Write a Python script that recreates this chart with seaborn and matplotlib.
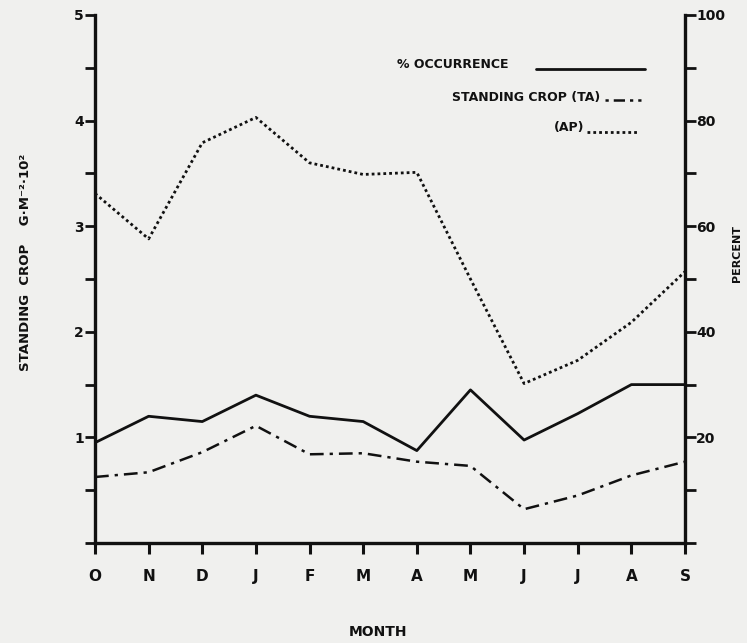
import numpy as np
import pandas as pd
import matplotlib
matplotlib.use("Agg")
import matplotlib.pyplot as plt
from matplotlib.lines import Line2D
import seaborn as sns

# Monthly values, October through September
months = ["O", "N", "D", "J", "F", "M", "A", "M", "J", "J", "A", "S"]
occurrence_pct = [19.0, 24.0, 23.0, 28.0, 24.0, 23.0, 17.5, 29.0, 19.5, 24.5, 30.0, 30.0]
standing_crop_ta = [0.625, 0.67, 0.86, 1.11, 0.84, 0.85, 0.77, 0.73, 0.32, 0.45, 0.64, 0.77]
standing_crop_ap = [3.31, 2.88, 3.79, 4.03, 3.60, 3.49, 3.51, 2.50, 1.51, 1.73, 2.09, 2.57]

left_ticks = [0, 1, 2, 3, 4, 5]
left_tick_labels = ["", "1", "2", "3", "4", "5"]
right_ticks = [0, 20, 40, 60, 80, 100]
right_tick_labels = ["", "20", "40", "60", "80", "100"]

df = pd.DataFrame({
    "idx": np.arange(len(months)),
    "occ": occurrence_pct,
    "ta": standing_crop_ta,
    "ap": standing_crop_ap,
})

sns.set_theme(style="white")
plt.rcParams["font.family"] = ["DejaVu Sans"]
plt.rcParams["font.weight"] = "bold"

paper = "#f0f0ee"
ink = "#111111"
ta_style = (0, (5.5, 2.4, 1.3, 2.4))
ap_style = (0, (1.0, 1.1))

fig = plt.figure(figsize=(7.47, 6.43), dpi=100, facecolor=paper)
ax = fig.add_axes([95 / 747, 1 - 543 / 643, (685 - 95) / 747, (543 - 15) / 643])
ax.set_facecolor("none")
ax2 = ax.twinx()

# standing crop series on the left scale
sns.lineplot(data=df, x="idx", y="ta", ax=ax, color=ink, linewidth=1.8,
             linestyle=ta_style)
sns.lineplot(data=df, x="idx", y="ap", ax=ax, color=ink, linewidth=2.0,
             linestyle=ap_style)
# percent occurrence on the right scale
sns.lineplot(data=df, x="idx", y="occ", ax=ax2, color=ink, linewidth=2.0)

ax.set_xlim(0, len(months) - 1)
ax.set_ylim(0, 5)
ax2.set_ylim(0, 100)

ax.set_xticks(df["idx"])
ax.set_xticklabels(months, fontsize=11, fontweight="bold", color=ink)
ax.set_yticks(left_ticks)
ax.set_yticklabels(left_tick_labels, fontsize=10, fontweight="bold", color=ink)
ax.set_yticks(np.arange(0.5, 5, 1.0), minor=True)
ax2.set_yticks(right_ticks)
ax2.set_yticklabels(right_tick_labels, fontsize=10, fontweight="bold", color=ink)
ax2.set_yticks(np.arange(10, 100, 20), minor=True)

ax.tick_params(axis="x", which="major", direction="out", length=8, width=2.2,
               color=ink, pad=11, bottom=True)
ax.tick_params(axis="y", which="both", direction="out", length=7, width=2.0,
               color=ink, pad=1, left=True)
ax2.tick_params(axis="y", which="both", direction="out", length=8, width=2.0,
                color=ink, pad=0, right=True)

for a in (ax, ax2):
    a.set_xlabel("")
    a.set_ylabel("")
    a.spines["top"].set_visible(False)
    for s in ("left", "right", "bottom"):
        a.spines[s].set_linewidth(2.4)
        a.spines[s].set_color(ink)
ax.spines["right"].set_visible(False)
ax2.spines["left"].set_visible(False)
ax2.spines["bottom"].set_visible(False)
ax.grid(False)
ax2.grid(False)

# axis titles
fig.text(26 / 747, 1 - 262 / 643, "STANDING  CROP    G·M⁻²·10²", rotation=90,
         ha="center", va="center", fontsize=9.5, fontweight="bold", color=ink)
fig.text(737 / 747, 1 - 254 / 643, "PERCENT", rotation=90,
         ha="center", va="center", fontsize=8, fontweight="bold", color=ink)
fig.text(378 / 747, 1 - 632 / 643, "MONTH", ha="center", va="center",
         fontsize=10, fontweight="bold", color=ink)

# key
def fx(px):
    return px / 747

def fy(py):
    return 1 - py / 643

fig.text(fx(397), fy(64), "% OCCURRENCE", ha="left", va="center",
         fontsize=9, fontweight="bold", color=ink)
fig.add_artist(Line2D([fx(536), fx(645)], [fy(69), fy(69)], color=ink, linewidth=2.0))
fig.text(fx(600), fy(98), "STANDING CROP (TA)", ha="right", va="center",
         fontsize=9, fontweight="bold", color=ink)
fig.add_artist(Line2D([fx(605), fx(641)], [fy(100), fy(100)], color=ink,
                      linewidth=1.8, linestyle=(0, (1.3, 2.0, 4.5, 2.0))))
fig.text(fx(584), fy(128), "(AP)", ha="right", va="center",
         fontsize=9, fontweight="bold", color=ink)
fig.add_artist(Line2D([fx(587), fx(638)], [fy(132), fy(132)], color=ink,
                      linewidth=2.0, linestyle=ap_style))

fig.savefig("out.png", dpi=100, facecolor=paper)
